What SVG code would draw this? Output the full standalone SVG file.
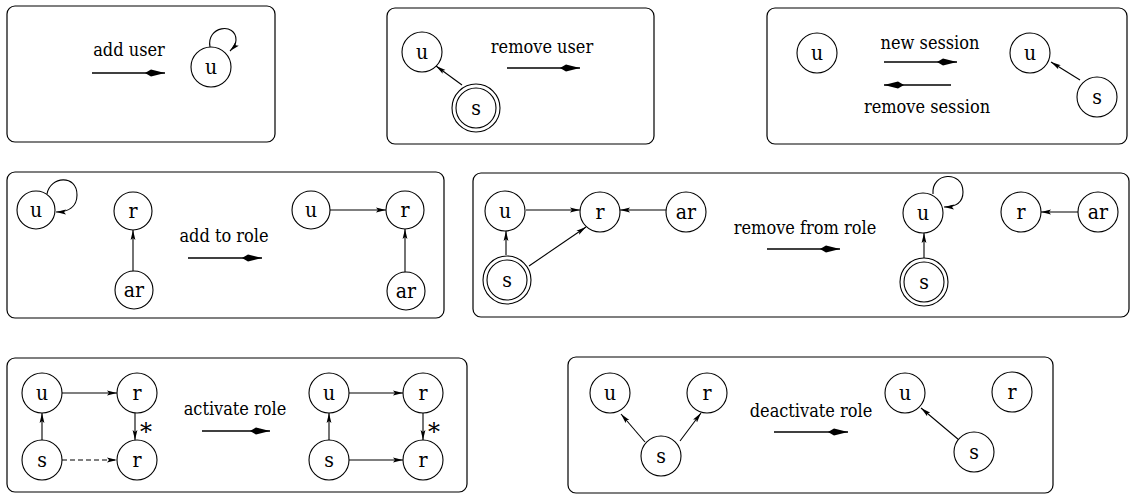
<svg xmlns="http://www.w3.org/2000/svg" width="1135" height="496" viewBox="0 0 1135 496">
  <defs>
    <style>
      .panel { fill: #fff; stroke: #000; stroke-width: 1.2; }
      .node { fill: #fff; stroke: #000; stroke-width: 1.1; }
      .edge { fill: none; stroke: #000; stroke-width: 1.1; }
      .dash { stroke-dasharray: 5 3; }
      .big { fill: none; stroke: #000; stroke-width: 1.3; }
      .lbl { font-family: "DejaVu Serif Condensed", "DejaVu Serif", "Liberation Serif", serif; font-stretch: condensed; font-size: 18px; fill: #000; text-anchor: middle; }
      .star { font-family: "DejaVu Serif", "Liberation Serif", serif; font-size: 24px; fill: #000; text-anchor: middle; }
      .nl { font-family: "DejaVu Serif Condensed", "DejaVu Serif", "Liberation Serif", serif; font-stretch: condensed; font-size: 21px; fill: #000; text-anchor: middle; }
    </style>
    <!-- small edge arrowhead -->
    <marker id="ah" viewBox="0 0 10 6" refX="10" refY="3" markerWidth="10" markerHeight="6" markerUnits="userSpaceOnUse" orient="auto">
      <path d="M0,0.6 L10,3 L0,5.4 L2,3 Z" fill="#000"/>
    </marker>
    <!-- large transition arrowhead -->
    <marker id="bh" viewBox="0 0 20 8" refX="20" refY="4" markerWidth="20" markerHeight="8" markerUnits="userSpaceOnUse" orient="auto">
      <path d="M0,4 L6,0.4 L20,4 L6,7.6 Z" fill="#000"/>
    </marker>
  </defs>

  <!-- panel frames -->
  <rect class="panel" x="7" y="6" width="268" height="136" rx="8"/>
  <rect class="panel" x="387" y="8" width="267" height="136" rx="8"/>
  <rect class="panel" x="767" y="8" width="360" height="136" rx="8"/>
  <rect class="panel" x="7" y="172" width="437" height="146" rx="8"/>
  <rect class="panel" x="473" y="173" width="656" height="144" rx="8"/>
  <rect class="panel" x="7" y="358" width="460" height="134" rx="8"/>
  <rect class="panel" x="568" y="357" width="485" height="136" rx="8"/>

  <!-- transition labels -->
  <g id="labels">
    <text class="lbl" x="129" y="56">add user</text>
    <text class="lbl" x="542" y="53">remove user</text>
    <text class="lbl" x="930" y="49">new session</text>
    <text class="lbl" x="927" y="113">remove session</text>
    <text class="lbl" x="224" y="242">add to role</text>
    <text class="lbl" x="805" y="234">remove from role</text>
    <text class="lbl" x="235" y="415">activate role</text>
    <text class="lbl" x="811" y="417">deactivate role</text>
    <text class="star" x="146" y="440">*</text>
    <text class="star" x="434" y="440">*</text>
  </g>

  <!-- connectors -->
  <g id="connectors">
    <!-- transition arrows -->
    <line class="big" x1="92" y1="73" x2="165" y2="73" marker-end="url(#bh)"/>
    <line class="big" x1="507" y1="68" x2="580" y2="68" marker-end="url(#bh)"/>
    <line class="big" x1="884" y1="62" x2="957" y2="62" marker-end="url(#bh)"/>
    <line class="big" x1="951" y1="85" x2="884" y2="85" marker-end="url(#bh)"/>
    <line class="big" x1="188" y1="258" x2="262" y2="258" marker-end="url(#bh)"/>
    <line class="big" x1="767" y1="249" x2="840" y2="249" marker-end="url(#bh)"/>
    <line class="big" x1="202" y1="431" x2="270" y2="431" marker-end="url(#bh)"/>
    <line class="big" x1="774" y1="432" x2="848" y2="432" marker-end="url(#bh)"/>

    <!-- add user -->
    <path class="edge" d="M210,47 C206,26 236,22 236,40 C236,45 233,48 230,51" marker-end="url(#ah)"/>
    <!-- remove user -->
    <line class="edge" x1="462" y1="85" x2="436" y2="66" marker-end="url(#ah)"/>
    <!-- new session -->
    <line class="edge" x1="1080" y1="80" x2="1051" y2="62" marker-end="url(#ah)"/>
    <!-- add to role -->
    <path class="edge" d="M47,194 C50,176 77,174 77,195 C77,207 68,212 56,212" marker-end="url(#ah)"/>
    <line class="edge" x1="133" y1="271" x2="133" y2="230" marker-end="url(#ah)"/>
    <line class="edge" x1="330" y1="210" x2="386" y2="210" marker-end="url(#ah)"/>
    <line class="edge" x1="405" y1="272" x2="405" y2="229" marker-end="url(#ah)"/>
    <!-- remove from role -->
    <line class="edge" x1="526" y1="210" x2="580" y2="210" marker-end="url(#ah)"/>
    <line class="edge" x1="666" y1="210" x2="620" y2="210" marker-end="url(#ah)"/>
    <line class="edge" x1="506" y1="255" x2="506" y2="231" marker-end="url(#ah)"/>
    <line class="edge" x1="529" y1="266" x2="586" y2="227" marker-end="url(#ah)"/>
    <path class="edge" d="M933,194 C931,172 963,170 963,192 C963,203 955,207 944,207" marker-end="url(#ah)"/>
    <line class="edge" x1="924" y1="258" x2="924" y2="233" marker-end="url(#ah)"/>
    <line class="edge" x1="1078" y1="212" x2="1041" y2="212" marker-end="url(#ah)"/>
    <!-- activate role -->
    <line class="edge" x1="62" y1="393" x2="117" y2="393" marker-end="url(#ah)"/>
    <line class="edge" x1="135" y1="413" x2="135" y2="440" marker-end="url(#ah)"/>
    <line class="edge" x1="42" y1="440" x2="42" y2="413" marker-end="url(#ah)"/>
    <line class="edge dash" x1="62" y1="460" x2="117" y2="460" marker-end="url(#ah)"/>
    <line class="edge" x1="349" y1="393" x2="403" y2="393" marker-end="url(#ah)"/>
    <line class="edge" x1="423" y1="413" x2="423" y2="440" marker-end="url(#ah)"/>
    <line class="edge" x1="329" y1="440" x2="329" y2="413" marker-end="url(#ah)"/>
    <line class="edge" x1="349" y1="460" x2="403" y2="460" marker-end="url(#ah)"/>
    <!-- deactivate role -->
    <line class="edge" x1="645" y1="442" x2="621" y2="414" marker-end="url(#ah)"/>
    <line class="edge" x1="680" y1="441" x2="701" y2="413" marker-end="url(#ah)"/>
    <line class="edge" x1="959" y1="440" x2="921" y2="408" marker-end="url(#ah)"/>
  </g>

  <!-- add user -->
  <g id="n1-u"><circle class="node" cx="211" cy="67" r="20"/><text class="nl" x="211" y="74">u</text></g>

  <!-- remove user -->
  <g id="n2-u"><circle class="node" cx="422" cy="52" r="20"/><text class="nl" x="422" y="59">u</text></g>
  <g id="n2-s"><circle class="node" cx="476" cy="108" r="24"/><circle class="node" cx="476" cy="108" r="20"/><text class="nl" x="476" y="115">s</text></g>

  <!-- new / remove session -->
  <g id="n3-u"><circle class="node" cx="817" cy="53" r="20"/><text class="nl" x="817" y="60">u</text></g>
  <g id="n3-u2"><circle class="node" cx="1030" cy="53" r="20"/><text class="nl" x="1030" y="60">u</text></g>
  <g id="n3-s"><circle class="node" cx="1097" cy="97" r="20"/><text class="nl" x="1097" y="104">s</text></g>

  <!-- add to role -->
  <g id="n4-u"><circle class="node" cx="36" cy="210" r="19"/><text class="nl" x="36" y="217">u</text></g>
  <g id="n4-r"><circle class="node" cx="133" cy="211" r="19"/><text class="nl" x="133" y="218">r</text></g>
  <g id="n4-ar"><circle class="node" cx="134" cy="290" r="19"/><text class="nl" x="134" y="297">ar</text></g>
  <g id="n4-u2"><circle class="node" cx="311" cy="210" r="19"/><text class="nl" x="311" y="217">u</text></g>
  <g id="n4-r2"><circle class="node" cx="405" cy="210" r="19"/><text class="nl" x="405" y="217">r</text></g>
  <g id="n4-ar2"><circle class="node" cx="406" cy="291" r="19"/><text class="nl" x="406" y="298">ar</text></g>

  <!-- remove from role -->
  <g id="n5-u"><circle class="node" cx="505" cy="211" r="20"/><text class="nl" x="505" y="218">u</text></g>
  <g id="n5-r"><circle class="node" cx="600" cy="212" r="20"/><text class="nl" x="600" y="219">r</text></g>
  <g id="n5-ar"><circle class="node" cx="686" cy="212" r="20"/><text class="nl" x="686" y="219">ar</text></g>
  <g id="n5-s"><circle class="node" cx="507" cy="280" r="24"/><circle class="node" cx="507" cy="280" r="20"/><text class="nl" x="507" y="287">s</text></g>
  <g id="n5-u2"><circle class="node" cx="923" cy="213" r="20"/><text class="nl" x="923" y="220">u</text></g>
  <g id="n5-s2"><circle class="node" cx="924" cy="282" r="24"/><circle class="node" cx="924" cy="282" r="20"/><text class="nl" x="924" y="289">s</text></g>
  <g id="n5-r2"><circle class="node" cx="1021" cy="212" r="20"/><text class="nl" x="1021" y="219">r</text></g>
  <g id="n5-ar2"><circle class="node" cx="1098" cy="212" r="20"/><text class="nl" x="1098" y="219">ar</text></g>

  <!-- activate role -->
  <g id="n6-u"><circle class="node" cx="42" cy="393" r="20"/><text class="nl" x="42" y="400">u</text></g>
  <g id="n6-r"><circle class="node" cx="137" cy="393" r="20"/><text class="nl" x="137" y="400">r</text></g>
  <g id="n6-s"><circle class="node" cx="42" cy="460" r="20"/><text class="nl" x="42" y="467">s</text></g>
  <g id="n6-r2"><circle class="node" cx="137" cy="460" r="20"/><text class="nl" x="137" y="467">r</text></g>
  <g id="n6-u3"><circle class="node" cx="329" cy="393" r="20"/><text class="nl" x="329" y="400">u</text></g>
  <g id="n6-r3"><circle class="node" cx="423" cy="393" r="20"/><text class="nl" x="423" y="400">r</text></g>
  <g id="n6-s3"><circle class="node" cx="329" cy="460" r="20"/><text class="nl" x="329" y="467">s</text></g>
  <g id="n6-r4"><circle class="node" cx="423" cy="460" r="20"/><text class="nl" x="423" y="467">r</text></g>

  <!-- deactivate role -->
  <g id="n7-u"><circle class="node" cx="610" cy="393" r="20"/><text class="nl" x="610" y="400">u</text></g>
  <g id="n7-r"><circle class="node" cx="707" cy="393" r="20"/><text class="nl" x="707" y="400">r</text></g>
  <g id="n7-s"><circle class="node" cx="661" cy="456" r="20"/><text class="nl" x="661" y="463">s</text></g>
  <g id="n7-u2"><circle class="node" cx="905" cy="393" r="20"/><text class="nl" x="905" y="400">u</text></g>
  <g id="n7-r2"><circle class="node" cx="1012" cy="392" r="20"/><text class="nl" x="1012" y="399">r</text></g>
  <g id="n7-s2"><circle class="node" cx="974" cy="452" r="20"/><text class="nl" x="974" y="459">s</text></g>
</svg>
